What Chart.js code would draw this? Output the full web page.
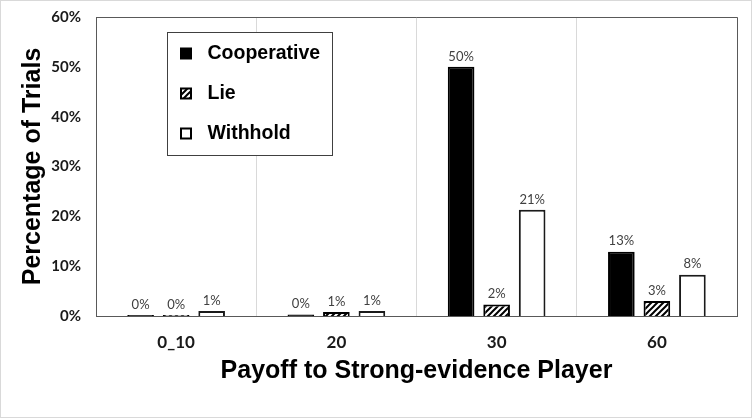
<!DOCTYPE html>
<html>
<head>
<meta charset="utf-8">
<script src="https://cdn.jsdelivr.net/npm/chart.js@4"></script>
<style>
  html, body { margin: 0; padding: 0; background: #fff; }
  #wrap { width: 752px; height: 418px; }
</style>
</head>
<body>
<div id="wrap"><canvas id="payoffChart" width="752" height="418"></canvas></div>
<script>
// data -------------------------------------------------------------------->
const categories = ['0_10', '20', '30', '60'];
const seriesNames = ['Cooperative', 'Lie', 'Withhold'];
const cooperative = [0.2, 0.3, 50.0, 12.9];
const lie = [0.2, 0.8, 2.3, 3.0];
const withhold = [1.0, 1.0, 21.3, 8.3];
const yTicks = [0, 10, 20, 30, 40, 50, 60];

// hatch for the "Lie" bars
function makeHatch() {
    const s = 6;
    const c = document.createElement('canvas');
    c.width = s; c.height = s;
    const g = c.getContext('2d');
    g.fillStyle = '#fff';
    g.fillRect(0, 0, s, s);
    g.strokeStyle = '#000';
    g.lineWidth = 2;
    g.beginPath();
    g.moveTo(0, s); g.lineTo(s, 0);
    g.moveTo(-1, 1); g.lineTo(1, -1);
    g.moveTo(s - 1, s + 1); g.lineTo(s + 1, s - 1);
    g.stroke();
    return document.getElementById('payoffChart').getContext('2d').createPattern(c, 'repeat');
}
const hatch = makeHatch();

// frame around plot + outer light border
const framePlugin = {
    id: 'frame',
    beforeDraw(chart) {
        const ctx = chart.ctx;
        ctx.save();
        ctx.strokeStyle = '#d9d9d9';
        ctx.lineWidth = 1;
        ctx.strokeRect(0.5, 0.5, chart.width - 1, chart.height - 1);
        ctx.restore();
    },
    afterDatasetsDraw(chart) {
        const a = chart.chartArea;
        const ctx = chart.ctx;
        ctx.save();
        ctx.strokeStyle = '#595959';
        ctx.lineWidth = 1;
        ctx.beginPath();
        ctx.moveTo(a.left, Math.round(a.top) + 0.5);
        ctx.lineTo(Math.round(a.right) + 0.5, Math.round(a.top) + 0.5);
        ctx.lineTo(Math.round(a.right) + 0.5, a.bottom);
        ctx.stroke();
        ctx.restore();
    }
};

// percent labels above bars
const valueLabels = {
    id: 'valueLabels',
    afterDatasetsDraw(chart) {
        const ctx = chart.ctx;
        ctx.save();
        ctx.font = '13px Lato';
        ctx.fillStyle = '#404040';
        ctx.textAlign = 'center';
        ctx.textBaseline = 'bottom';
        chart.data.datasets.forEach((ds, i) => {
            chart.getDatasetMeta(i).data.forEach((bar, j) => {
                ctx.fillText(Math.round(ds.data[j]) + '%', bar.x, bar.y - 4);
            });
        });
        ctx.restore();
    }
};

// boxed legend inside the plot, top-left
const boxLegend = {
    id: 'boxLegend',
    afterDraw(chart) {
        const a = chart.chartArea;
        const ctx = chart.ctx;
        const x0 = Math.round(a.left) + 71.5, y0 = Math.round(a.top) + 15.5;
        ctx.save();
        ctx.fillStyle = '#fff';
        ctx.fillRect(x0, y0, 165, 123);
        ctx.strokeStyle = '#404040';
        ctx.lineWidth = 1;
        ctx.strokeRect(x0, y0, 165, 123);
        ctx.font = 'bold 19.5px "Liberation Sans", Arial';
        ctx.textBaseline = 'middle';
        chart.data.datasets.forEach((ds, i) => {
            const cy = y0 + 21 + i * 40;
            ctx.fillStyle = ds.backgroundColor;
            ctx.fillRect(x0 + 13, cy - 5.5, 11, 11);
            ctx.strokeStyle = '#000';
            ctx.lineWidth = 2;
            ctx.strokeRect(x0 + 13.5, cy - 5, 10, 10);
            ctx.fillStyle = '#000';
            ctx.fillText(ds.label, x0 + 40, cy);
        });
        ctx.restore();
    }
};

const ctx = document.getElementById('payoffChart');
const payoffChart = new Chart(ctx, {
    type: 'bar',
    data: {
        labels: categories,
        datasets: [
            { label: seriesNames[0], data: cooperative, backgroundColor: '#000', borderColor: '#000', borderWidth: 2 },
            { label: seriesNames[1], data: lie, backgroundColor: hatch, borderColor: '#000', borderWidth: 2 },
            { label: seriesNames[2], data: withhold, backgroundColor: '#fff', borderColor: '#1a1a1a', borderWidth: 2 }
        ]
    },
    options: {
        responsive: false,
        animation: false,
        categoryPercentage: 0.665,
        barPercentage: 0.75,
        layout: { padding: { left: 0, top: 17, right: 15, bottom: 0 } },
        plugins: {
            legend: { display: false },
            tooltip: { enabled: false }
        },
        scales: {
            x: {
                grid: { color: '#d9d9d9', drawTicks: false, offset: true },
                border: { color: '#595959' },
                ticks: { color: '#1a1a1a', padding: 16, font: { family: 'Lato', weight: 'bold', size: 17 } },
                title: {
                    display: true,
                    text: 'Payoff to Strong-evidence Player',
                    color: '#000',
                    font: { family: '"Liberation Sans", Arial', weight: 'bold', size: 25 },
                    padding: { top: 0, bottom: 32 }
                },
                afterFit(scale) { scale.height = 102; }
            },
            y: {
                min: 0,
                max: 60,
                afterBuildTicks(scale) { scale.ticks = yTicks.map(v => ({ value: v })); },
                grid: { display: false, drawTicks: false },
                border: { color: '#595959' },
                ticks: {
                    color: '#1a1a1a',
                    padding: 15,
                    font: { family: 'Lato', weight: 'bold', size: 15 },
                    callback: v => v + '%'
                },
                title: {
                    display: true,
                    text: 'Percentage of Trials',
                    color: '#000',
                    font: { family: '"Liberation Sans", Arial', weight: 'bold', size: 25 },
                    padding: { top: 18, bottom: 0 }
                },
                afterFit(scale) {
                    scale.width = 96;
                    scale.paddingTop = 0;
                    scale.paddingBottom = 0;
                }
            }
        }
    },
    plugins: [framePlugin, valueLabels, boxLegend]
});
</script>
</body>
</html>
